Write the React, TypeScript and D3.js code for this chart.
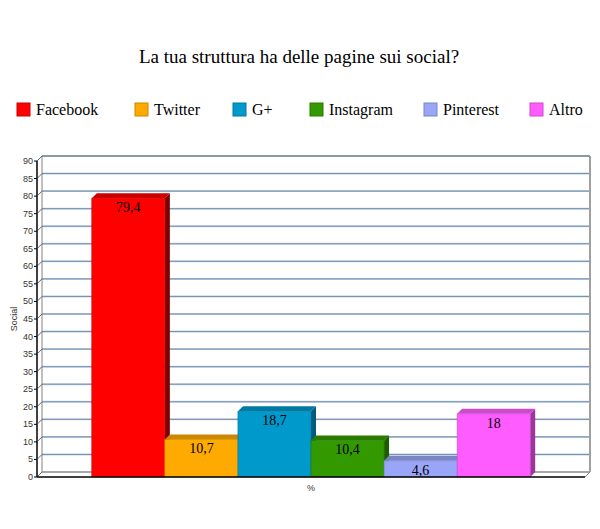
import React from 'react';
import * as d3 from 'd3';

const title = 'La tua struttura ha delle pagine sui social?';
const categories = ['%'];
const seriesNames = ['Facebook', 'Twitter', 'G+', 'Instagram', 'Pinterest', 'Altro'];
const seriesValues = [79.4, 10.7, 18.7, 10.4, 4.6, 18];
const frontColors = ['#ff0000', '#ffaa00', '#0099cc', '#339900', '#99a6f8', '#ff5cff'];
const topColors = ['#cc0000', '#cc8800', '#007aa3', '#287a00', '#7a85c6', '#cc4acc'];
const sideColors = ['#800000', '#996600', '#005c7a', '#1e5c00', '#5c6495', '#993899'];
const legendX = [17, 135, 233, 310, 424, 530];
const yTicks = d3.range(0, 95, 5);

const W = 600;
const H = 529;
const depth = 5;
const serif = "'Liberation Serif', 'Times New Roman', Times, serif";
const sans = "'Liberation Sans', Arial, sans-serif";

const App: React.FC = () => {
    // assi
    const y = d3.scaleLinear().domain([0, 90]).range([477, 161]);
    const xCat = d3.scaleBand().domain(categories).range([37, 585]).padding(0);
    const catX = xCat('%') || 0;
    const inner = xCat.bandwidth() * 0.1;
    const xSeries = d3.scaleBand()
        .domain(seriesNames)
        .range([catX + inner, catX + xCat.bandwidth() - inner])
        .padding(0);

    const fmt = (n: number) => String(n).replace('.', ',');
    const x0 = 37;
    const x1 = 585;
    const y0 = y(0);
    const yTop = y(90);

    return (
        <svg width={W} height={H} style={{position: 'absolute', left: 0, top: 0, background: '#fff', fontFamily: serif}}>
            <text x={299} y={63} textAnchor="middle" style={{fontFamily: serif, fontSize: 19}}>{title}</text>

            {/* legenda */}
            {seriesNames.map((s, i) => (
                <g key={s} transform={`translate(${legendX[i]},103)`}>
                    <rect width={13} height={13} fill={frontColors[i]} stroke={topColors[i]} strokeWidth={1}/>
                    <text x={19} y={12} style={{fontFamily: serif, fontSize: 16}}>{s}</text>
                </g>
            ))}

            {/* pareti */}
            <polygon points={`${x0},${y0} ${x0 + depth},${y0 - depth} ${x1 + depth},${y0 - depth} ${x1},${y0}`}
                     fill="#fff"/>
            {yTicks.filter(t => t > 0).map(t => (
                <g key={t}>
                    <line x1={x0 + depth} x2={x1 + depth} y1={y(t) - depth} y2={y(t) - depth}
                          stroke="#c3d0e0" strokeWidth={2}/>
                    <line x1={x0 + depth} x2={x1 + depth} y1={y(t) - depth} y2={y(t) - depth}
                          stroke="#7290b4" strokeWidth={1}/>
                </g>
            ))}
            <line x1={x0 + depth} x2={x1 + depth} y1={y0 - depth} y2={y0 - depth} stroke="#a8a8a8"
                  strokeWidth={2}/>
            <line x1={x0 + depth} x2={x1 + depth} y1={yTop - depth} y2={yTop - depth} stroke="#808080"
                  strokeWidth={1.2}/>
            <line x1={x0 + depth} x2={x0 + depth} y1={yTop - depth} y2={y0 - depth} stroke="#808080"
                  strokeWidth={1}/>
            <line x1={x1 + depth} x2={x1 + depth} y1={yTop - depth} y2={y0 - depth} stroke="#a0a0a0"
                  strokeWidth={2}/>

            {/* barre */}
            {seriesNames.map((s, i) => {
                const bx0 = xSeries(s) || 0;
                const bx1 = bx0 + xSeries.bandwidth();
                const by = y(seriesValues[i]);
                return (
                    <g key={s}>
                        <polygon
                            points={`${bx1},${by} ${bx1 + depth},${by - depth} ${bx1 + depth},${y0 - depth} ${bx1},${y0}`}
                            fill={sideColors[i]}/>
                        <polygon
                            points={`${bx0},${by} ${bx0 + depth},${by - depth} ${bx1 + depth},${by - depth} ${bx1},${by}`}
                            fill={topColors[i]}/>
                        <rect x={bx0} y={by} width={bx1 - bx0} height={y0 - by} fill={frontColors[i]}
                              stroke={topColors[i]} strokeWidth={0.6}/>
                        <text x={(bx0 + bx1) / 2} y={by + 14} textAnchor="middle"
                              style={{fontFamily: serif, fontSize: 14}}>
                            {fmt(seriesValues[i])}
                        </text>
                    </g>
                );
            })}

            {/* asse y */}
            <line x1={x0} x2={x0} y1={yTop} y2={y0} stroke="#000" strokeWidth={1.5}/>
            {yTicks.map(t => (
                <g key={t}>
                    <line x1={x0 - 3} x2={x0} y1={y(t)} y2={y(t)} stroke="#000"/>
                    <line x1={x0} x2={x0 + depth} y1={y(t)} y2={y(t) - depth} stroke="#444" strokeWidth={0.8}/>
                    <text x={x0 - 4} y={y(t) + 3} textAnchor="end" fill="#333"
                          style={{fontFamily: sans, fontSize: 9}}>{t}</text>
                </g>
            ))}
            <line x1={x0} x2={x1} y1={y0} y2={y0} stroke="#000" strokeWidth={1.5}/>
            <line x1={x1} x2={x1 + depth} y1={y0} y2={y0 - depth} stroke="#808080" strokeWidth={1}/>

            <text transform={`translate(17,${(y0 + yTop) / 2}) rotate(-90)`} textAnchor="middle" fill="#333"
                  style={{fontFamily: sans, fontSize: 9}}>Social</text>
            <text x={catX + xCat.bandwidth() / 2} y={491} textAnchor="middle" fill="#333"
                  style={{fontFamily: sans, fontSize: 9}}>
                {categories[0]}
            </text>
        </svg>
    );
};

export default App;
